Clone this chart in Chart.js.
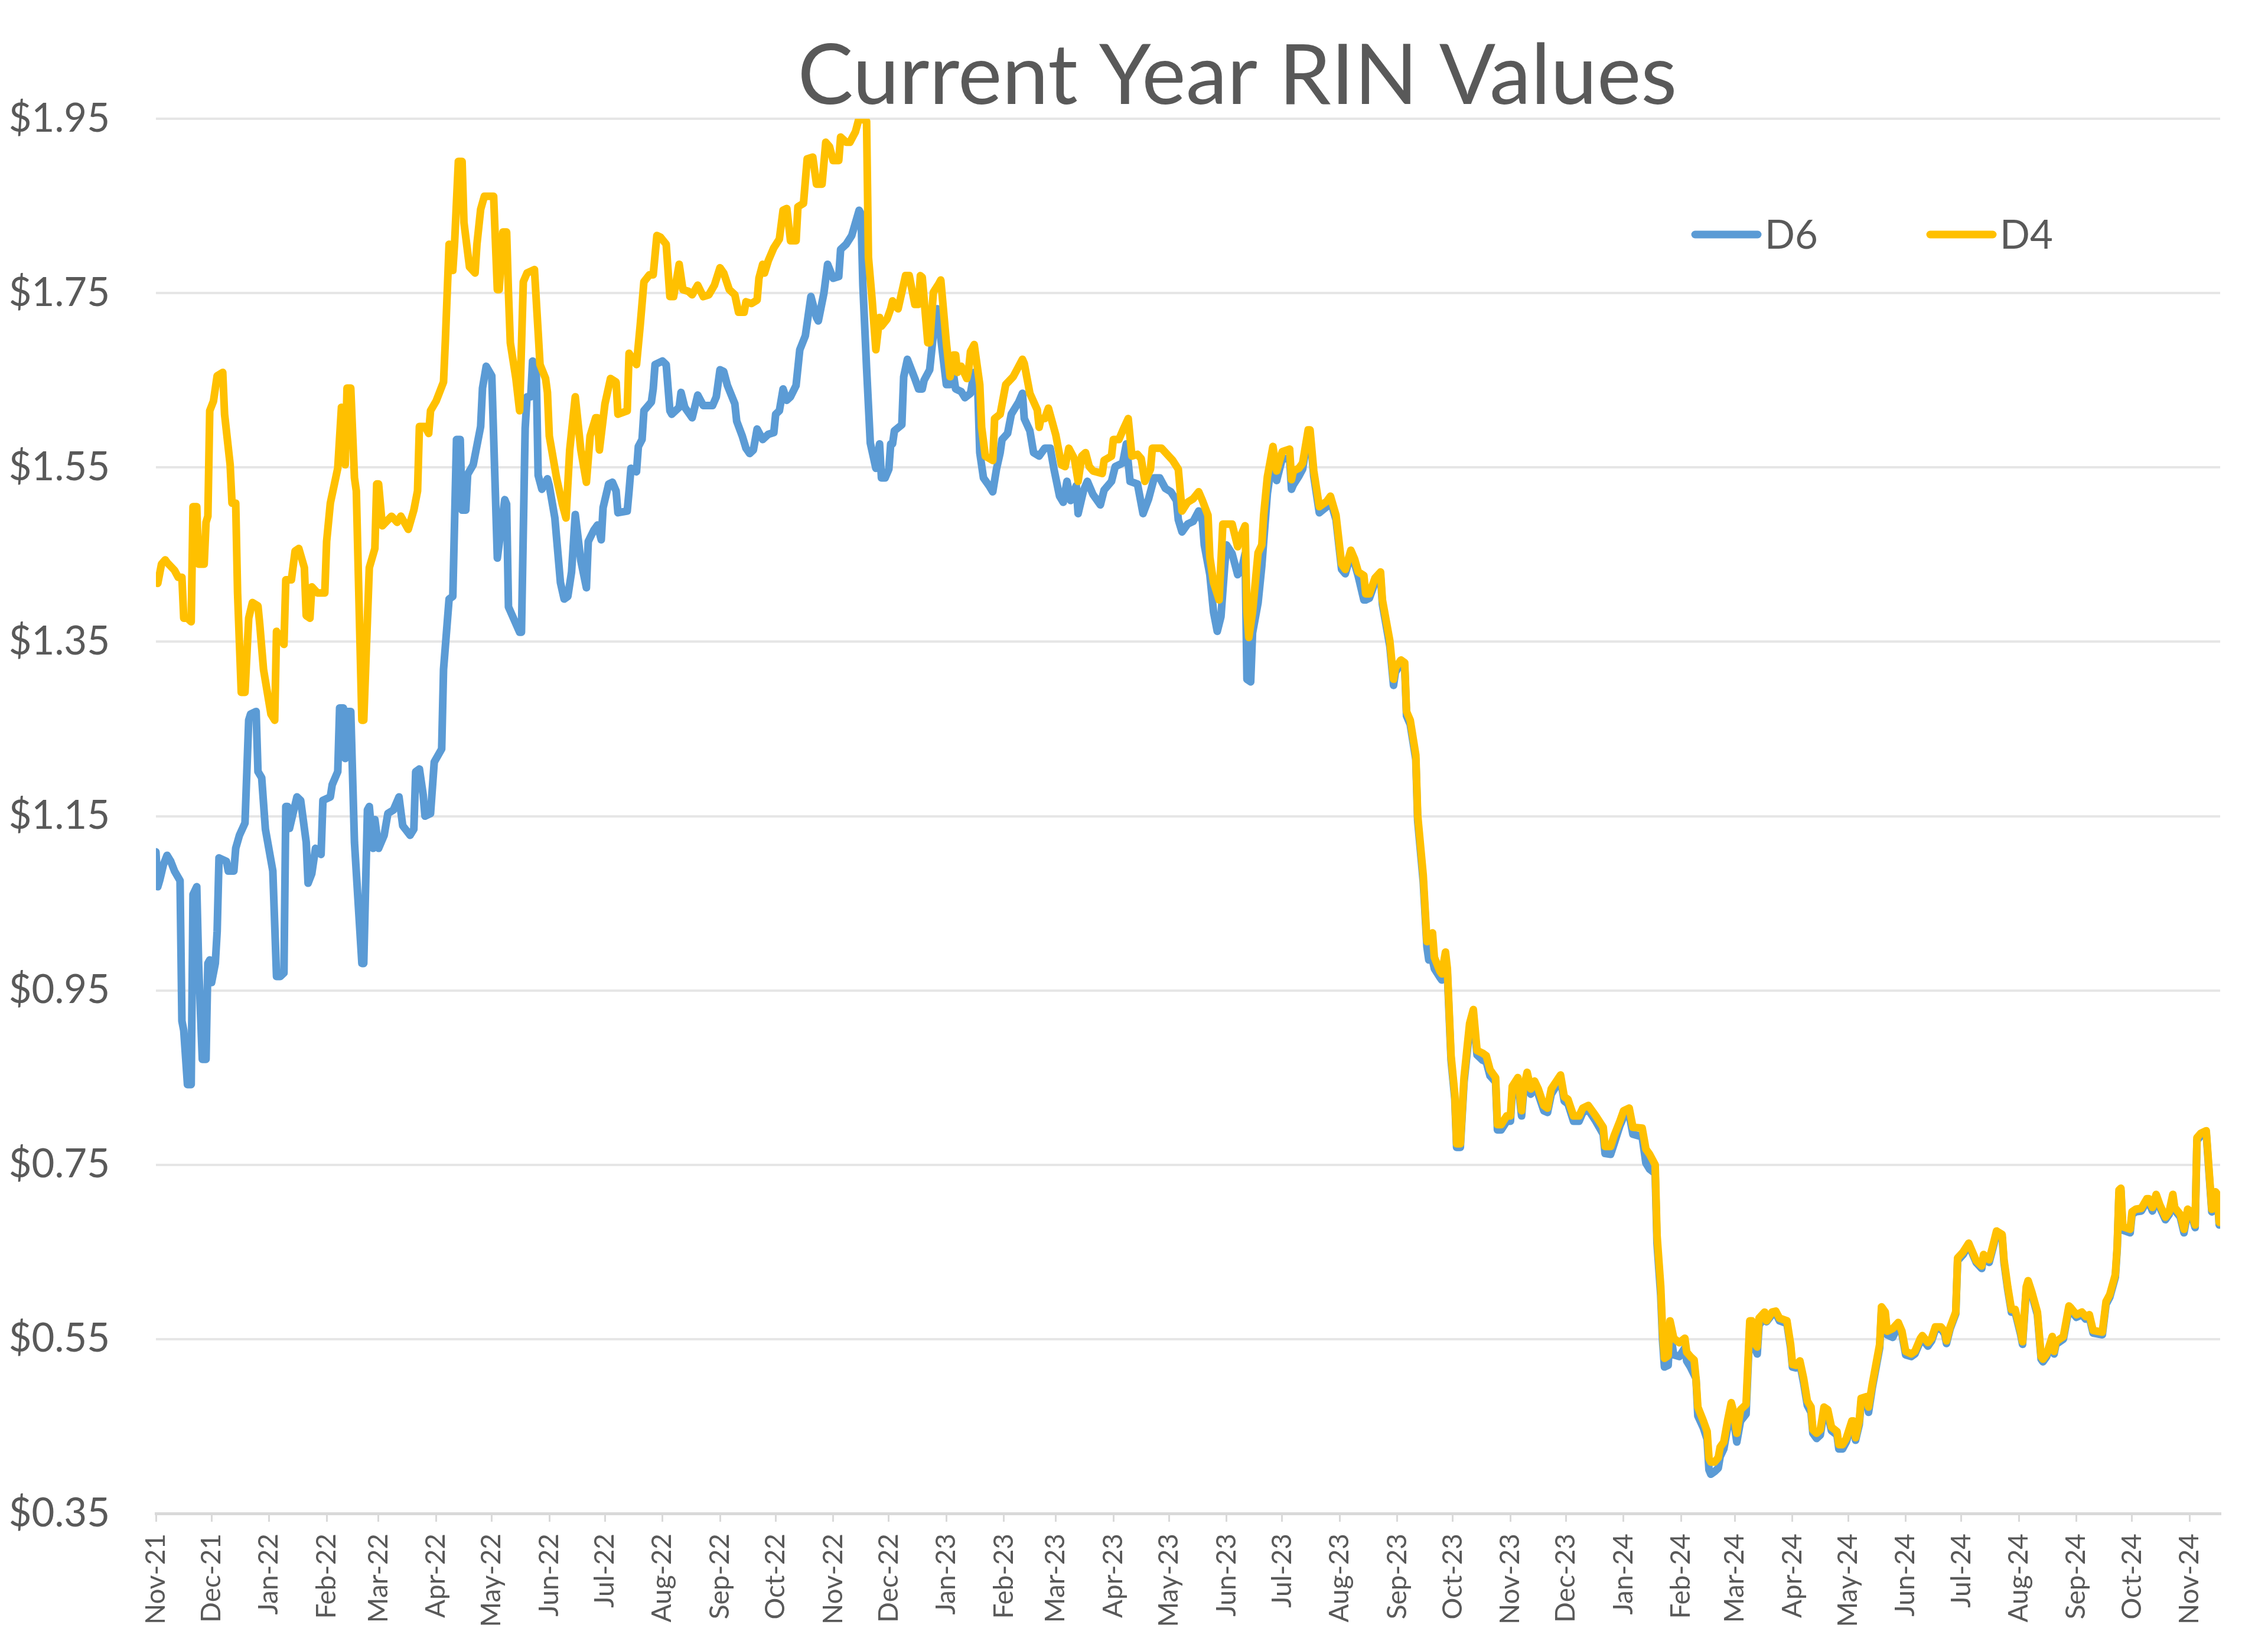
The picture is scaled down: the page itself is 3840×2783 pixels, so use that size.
<!DOCTYPE html>
<html lang="en">
<head>
  <meta charset="UTF-8" />
  <title>Current Year RIN Values</title>
  <style>
    html, body { margin: 0; padding: 0; background: #fff; }
    #wrap { width: 3840px; height: 2783px; }
  </style>
  <script src="https://cdn.jsdelivr.net/npm/chart.js"></script>
</head>
<body>
  <div id="wrap"><canvas id="rinChart" width="3840" height="2783"></canvas></div>

  <script>
    // x values are days counted from 1 Nov 2021
    const d6Day = [
      0,1,2,4,6,8,10,13,14,15, 17,19,20,22,23,25,27,28,29,30,
      32,33,34,38,39,42,43,45,48,49, 50,51,54,55,57,59,63,65,67,69,
      70,71,72,76,78,81,82,84,86,89, 90,94,95,98,99,101,102,103,105,107,
      111,112,114,115,117,118,120,123,125,128, 131,133,137,139,140,142,144,145,148,150,
      154,155,158,160,162,164,165,167,168,171, 175,176,178,181,183,184,188,189,190,196,
      197,199,200,202,203,205,206,208,211,212, 215,218,220,222,224,226,229,232,233,236,
      238,240,241,244,246,248,249,254,255,256, 259,260,262,263,267,268,269,273,275,277,
      278,282,283,285,289,292,295,300,302,304, 306,308,312,313,316,318,320,322,324,327,
      330,333,334,336,338,340,342,345,347,350, 353,356,357,360,362,365,368,369,372,375,
      379,380,381,383,385,388,390,391,393,395, 396,397,398,402,403,405,409,411,413,414,
      417,419,421,423,426,428,430,431,434,436, 439,441,443,444,446,449,451,453,455,456,
      459,461,465,467,468,471,473,476,479,482, 484,487,489,491,493,496,497,500,502,505,
      509,511,515,517,521,523,525,529,532,535, 538,541,544,547,550,551,553,556,559,562,
      564,565,568,570,572,574,576,577,580,583, 585,587,588,590,591,594,596,599,602,604,
      607,611,612,613,616,618,621,622,624,627, 631,633,636,639,641,644,646,648,651,652,
      654,657,660,661,665,667,668,671,673,674, 676,679,680,683,685,686,688,689,692,693,
      695,696,698,700,701,703,705,708,710,712, 715,717,719,722,723,725,728,730,731,734,
      736,737,739,741,743,745,748,750,752,757, 759,761,764,767,769,772,776,780,781,784,
      786,789,791,794,796,801,803,805,808,809, 811,812,813,815,816,818,821,824,825,827,
      830,831,834,836,837,838,840,842,843,845, 847,849,850,852,854,857,859,860,862,863,
      864,867,868,871,873,875,879,881,882,884, 886,888,890,892,893,895,897,899,901,903,
      906,907,909,911,914,915,916,918,919,922, 923,925,927,929,930,932,933,936,939,941,
      943,946,948,951,952,955,957,959,962,964, 965,967,970,971,974,977,979,981,984,985,
      988,990,992,995,996,998,1000,1002,1005,1006, 1008,1009,1011,1014,1016,1017,1019,1022,1023,1024,
      1028,1031,1032,1035,1038,1040,1042,1044,1049,1051, 1053,1056,1057,1058,1059,1060,1064,1065,1067,1070,
      1073,1074,1076,1078,1080,1083,1085,1087,1088,1091, 1093,1095,1097,1099,1100,1102,1105,1108,1110,1111,
      1112
    ];
    const d6Val = [
      1.109,1.069,1.076,1.094,1.105,1.098,1.087,1.076,0.915,0.904, 0.842,0.842,1.060,1.069,0.981,0.871,0.871,0.981,0.985,0.959,
      0.981,1.018,1.102,1.098,1.087,1.087,1.113,1.128,1.142,1.201, 1.260,1.267,1.270,1.201,1.194,1.135,1.087,0.966,0.966,0.970,
      1.161,1.161,1.136,1.172,1.168,1.120,1.073,1.084,1.113,1.106, 1.168,1.172,1.186,1.201,1.274,1.274,1.216,1.270,1.270,1.120,
      0.981,0.981,1.157,1.161,1.113,1.146,1.113,1.128,1.153,1.157, 1.172,1.139,1.128,1.135,1.201,1.204,1.175,1.150,1.153,1.212,
      1.227,1.318,1.399,1.402,1.582,1.582,1.501,1.501,1.542,1.553, 1.597,1.641,1.666,1.655,1.516,1.446,1.513,1.508,1.390,1.361,
      1.361,1.595,1.631,1.631,1.672,1.656,1.541,1.525,1.537,1.529, 1.492,1.418,1.399,1.402,1.430,1.496,1.443,1.412,1.465,1.478,
      1.484,1.467,1.504,1.531,1.533,1.523,1.498,1.500,1.523,1.549, 1.545,1.574,1.582,1.615,1.625,1.640,1.668,1.672,1.668,1.615,
      1.611,1.619,1.636,1.619,1.607,1.633,1.621,1.621,1.631,1.662, 1.660,1.644,1.623,1.603,1.586,1.572,1.566,1.570,1.594,1.582,
      1.588,1.590,1.611,1.615,1.640,1.627,1.631,1.644,1.685,1.701, 1.746,1.722,1.718,1.750,1.783,1.767,1.769,1.800,1.806,1.816,
      1.845,1.841,1.759,1.664,1.578,1.549,1.577,1.538,1.538,1.548, 1.577,1.577,1.592,1.599,1.654,1.674,1.652,1.640,1.640,1.650,
      1.662,1.703,1.732,1.698,1.645,1.645,1.654,1.640,1.637,1.630, 1.635,1.659,1.635,1.567,1.538,1.529,1.522,1.548,1.567,1.582,
      1.589,1.611,1.625,1.635,1.606,1.592,1.567,1.563,1.572,1.572, 1.548,1.517,1.510,1.534,1.512,1.529,1.497,1.524,1.534,1.519,
      1.507,1.524,1.534,1.551,1.555,1.577,1.534,1.531,1.497,1.514, 1.538,1.538,1.526,1.522,1.512,1.490,1.476,1.485,1.488,1.500,
      1.488,1.461,1.427,1.384,1.362,1.379,1.437,1.461,1.451,1.427, 1.432,1.451,1.307,1.304,1.360,1.395,1.437,1.520,1.565,1.535,
      1.560,1.560,1.525,1.530,1.540,1.548,1.590,1.588,1.540,1.498, 1.505,1.512,1.490,1.433,1.428,1.450,1.440,1.425,1.398,1.398,
      1.400,1.418,1.425,1.393,1.345,1.300,1.315,1.325,1.322,1.265, 1.255,1.215,1.145,1.075,1.000,0.985,0.985,0.975,0.965,0.962,
      0.988,0.970,0.870,0.826,0.770,0.770,0.845,0.905,0.922,0.876, 0.870,0.868,0.852,0.845,0.790,0.790,0.800,0.800,0.834,0.845,
      0.806,0.831,0.850,0.831,0.840,0.831,0.812,0.810,0.831,0.848, 0.823,0.820,0.800,0.800,0.810,0.813,0.800,0.785,0.763,0.762,
      0.775,0.795,0.805,0.808,0.785,0.782,0.752,0.745,0.740,0.660, 0.600,0.548,0.518,0.520,0.560,0.532,0.530,0.540,0.525,0.518,
      0.505,0.462,0.448,0.435,0.400,0.395,0.398,0.402,0.415,0.424, 0.448,0.470,0.462,0.432,0.456,0.464,0.565,0.566,0.538,0.533,
      0.566,0.575,0.570,0.578,0.580,0.571,0.568,0.540,0.518,0.517, 0.522,0.500,0.474,0.466,0.442,0.436,0.440,0.467,0.464,0.445,
      0.440,0.424,0.424,0.432,0.452,0.452,0.434,0.452,0.478,0.480, 0.466,0.494,0.517,0.540,0.584,0.578,0.555,0.552,0.565,0.556,
      0.532,0.530,0.533,0.548,0.550,0.542,0.548,0.561,0.562,0.556, 0.545,0.562,0.579,0.640,0.647,0.658,0.648,0.638,0.631,0.644,
      0.638,0.654,0.671,0.667,0.638,0.607,0.581,0.581,0.555,0.544, 0.607,0.614,0.601,0.578,0.527,0.524,0.530,0.550,0.533,0.544,
      0.550,0.585,0.583,0.575,0.578,0.573,0.575,0.557,0.555,0.590, 0.598,0.621,0.653,0.718,0.720,0.675,0.672,0.693,0.696,0.697,
      0.708,0.708,0.697,0.713,0.701,0.687,0.693,0.713,0.698,0.690, 0.672,0.696,0.693,0.678,0.778,0.783,0.786,0.696,0.716,0.713,
      0.681
    ];

    const d4Day = [
      0,1,3,5,6,10,12,14,15,17, 19,20,22,23,26,27,28,29,31,33,
      36,37,40,41,43,44,46,48,50,52, 55,56,58,62,64,65,69,70,73,75,
      77,80,81,83,84,87,91,92,94,98, 100,101,102,103,105,107,108,111,112,115,
      118,119,120,122,127,130,132,136,139,141, 142,145,147,148,151,155,156,158,160,161,
      163,165,166,169,172,173,175,177,182,184, 185,187,189,190,191,194,196,198,200,204,
      206,207,210,211,212,216,219,221,223,226, 229,232,234,237,238,239,242,245,248,249,
      254,255,259,261,263,266,268,270,272,275, 277,279,282,284,287,289,292,295,298,301,
      304,306,309,312,314,317,318,321,324,325, 327,328,330,333,336,338,340,342,345,346,
      349,351,354,356,359,361,363,365,368,369, 372,374,377,379,383,384,386,388,390,391,
      394,396,397,398,400,402,404,406,409,411, 412,413,416,417,419,422,423,426,428,430,
      431,432,434,437,438,439,441,444,445,447, 451,452,455,458,462,464,467,468,471,475,
      476,477,479,481,485,488,490,492,495,497, 499,501,503,505,510,511,515,516,519,521,
      524,526,529,531,533,536,537,542,545,548, 551,553,556,559,562,564,567,568,570,573,
      574,575,580,583,585,587,588,589,591,594, 596,597,599,602,604,607,611,612,613,616,
      618,621,622,624,627,631,633,636,639,641, 644,646,648,651,652,654,657,660,661,665,
      667,668,671,673,674,676,679,680,683,685, 686,688,689,692,693,695,696,698,700,701,
      703,705,708,710,712,715,717,719,722,723, 725,728,730,731,734,736,737,739,741,743,
      745,748,750,752,757,759,761,764,767,769, 772,776,780,781,784,786,789,791,794,796,
      801,803,805,808,809,811,812,813,815,816, 818,821,824,825,827,829,830,831,834,836,
      837,838,840,842,843,845,847,849,850,852, 854,857,859,860,862,863,864,867,868,871,
      873,875,879,881,882,884,886,888,890,892, 893,895,897,899,901,903,906,907,909,911,
      914,915,916,918,919,922,923,925,927,929, 930,932,933,936,939,941,943,946,948,951,
      952,955,957,959,962,964,965,967,970,971, 974,977,979,981,984,985,988,990,992,995,
      996,998,1000,1002,1005,1006,1008,1009,1011,1014, 1016,1017,1019,1022,1023,1024,1028,1031,1032,1035,
      1038,1040,1042,1044,1049,1051,1053,1056,1057,1058, 1059,1060,1064,1065,1067,1070,1073,1074,1076,1078,
      1080,1083,1085,1087,1088,1091,1093,1095,1097,1099, 1100,1102,1105,1108,1110,1111,1112
    ];
    const d4Val = [
      1.421,1.417,1.439,1.444,1.441,1.432,1.424,1.424,1.377,1.377, 1.373,1.505,1.505,1.439,1.439,1.487,1.494,1.615,1.626,1.655,
      1.659,1.611,1.553,1.509,1.509,1.406,1.292,1.292,1.377,1.395, 1.391,1.369,1.318,1.267,1.260,1.362,1.347,1.421,1.421,1.454,
      1.457,1.435,1.380,1.377,1.413,1.406,1.406,1.465,1.509,1.549, 1.619,1.611,1.553,1.641,1.641,1.538,1.523,1.260,1.260,1.435,
      1.457,1.531,1.531,1.483,1.494,1.487,1.494,1.479,1.501,1.523, 1.597,1.597,1.589,1.615,1.626,1.648,1.696,1.806,1.776,1.809,
      1.901,1.901,1.831,1.780,1.773,1.806,1.846,1.861,1.861,1.754, 1.754,1.820,1.820,1.750,1.693,1.652,1.615,1.763,1.773,1.777,
      1.705,1.668,1.652,1.636,1.586,1.537,1.508,1.492,1.570,1.631, 1.570,1.533,1.586,1.607,1.607,1.570,1.623,1.652,1.648,1.611,
      1.615,1.681,1.668,1.713,1.763,1.771,1.771,1.816,1.814,1.806, 1.746,1.746,1.783,1.754,1.752,1.748,1.759,1.746,1.748,1.759,
      1.779,1.773,1.754,1.748,1.728,1.728,1.740,1.738,1.742,1.767, 1.783,1.773,1.787,1.802,1.812,1.845,1.847,1.810,1.810,1.849,
      1.853,1.904,1.906,1.875,1.875,1.923,1.918,1.902,1.902,1.929, 1.923,1.923,1.935,1.951,1.947,1.791,1.742,1.685,1.722,1.712,
      1.720,1.732,1.741,1.737,1.732,1.751,1.770,1.770,1.737,1.737, 1.770,1.768,1.693,1.693,1.751,1.761,1.765,1.693,1.654,1.679,
      1.679,1.659,1.666,1.652,1.662,1.683,1.691,1.645,1.596,1.563, 1.558,1.606,1.611,1.645,1.654,1.662,1.674,1.669,1.635,1.616,
      1.596,1.606,1.606,1.618,1.587,1.553,1.551,1.572,1.560,1.534, 1.563,1.567,1.551,1.546,1.543,1.558,1.563,1.582,1.582,1.592,
      1.606,1.563,1.565,1.560,1.534,1.548,1.572,1.572,1.565,1.558, 1.548,1.500,1.510,1.514,1.522,1.512,1.495,1.447,1.418,1.398,
      1.442,1.485,1.485,1.459,1.473,1.483,1.384,1.355,1.384,1.452, 1.461,1.495,1.539,1.574,1.546,1.568,1.571,1.536,1.546,1.549,
      1.555,1.593,1.593,1.546,1.505,1.511,1.517,1.495,1.439,1.433, 1.455,1.445,1.430,1.426,1.405,1.405,1.423,1.430,1.398,1.351,
      1.307,1.320,1.329,1.326,1.270,1.260,1.220,1.151,1.082,1.006, 1.013,1.016,0.988,0.972,0.969,0.994,0.975,0.875,0.831,0.774,
      0.774,0.850,0.912,0.928,0.881,0.878,0.875,0.859,0.850,0.796, 0.796,0.806,0.806,0.840,0.850,0.812,0.837,0.856,0.837,0.846,
      0.837,0.818,0.815,0.837,0.853,0.828,0.825,0.806,0.806,0.815, 0.818,0.806,0.793,0.771,0.771,0.784,0.800,0.812,0.815,0.793,
      0.792,0.768,0.762,0.750,0.669,0.610,0.558,0.528,0.531,0.571, 0.551,0.546,0.551,0.535,0.530,0.526,0.505,0.472,0.456,0.444,
      0.413,0.409,0.409,0.414,0.426,0.432,0.456,0.477,0.469,0.442, 0.469,0.475,0.571,0.571,0.544,0.541,0.574,0.581,0.571,0.581,
      0.582,0.574,0.571,0.544,0.521,0.520,0.525,0.505,0.479,0.472, 0.446,0.442,0.446,0.472,0.469,0.449,0.444,0.429,0.429,0.436,
      0.456,0.456,0.437,0.456,0.482,0.484,0.472,0.498,0.521,0.544, 0.587,0.581,0.559,0.562,0.569,0.559,0.536,0.533,0.536,0.551,
      0.554,0.546,0.551,0.564,0.564,0.559,0.548,0.564,0.581,0.643, 0.650,0.660,0.650,0.640,0.634,0.647,0.641,0.657,0.674,0.670,
      0.641,0.610,0.584,0.584,0.558,0.547,0.610,0.617,0.604,0.581, 0.530,0.527,0.533,0.553,0.536,0.547,0.553,0.588,0.586,0.578,
      0.581,0.576,0.578,0.560,0.558,0.593,0.601,0.624,0.656,0.721, 0.723,0.679,0.676,0.696,0.699,0.700,0.711,0.711,0.701,0.716,
      0.704,0.690,0.696,0.716,0.701,0.693,0.676,0.699,0.696,0.681, 0.781,0.786,0.789,0.699,0.719,0.716,0.684
    ];

    const monthLabels = [
      'Nov-21','Dec-21','Jan-22','Feb-22','Mar-22','Apr-22','May-22','Jun-22','Jul-22','Aug-22','Sep-22','Oct-22',
      'Nov-22','Dec-22','Jan-23','Feb-23','Mar-23','Apr-23','May-23','Jun-23','Jul-23','Aug-23','Sep-23','Oct-23',
      'Nov-23','Dec-23','Jan-24','Feb-24','Mar-24','Apr-24','May-24','Jun-24','Jul-24','Aug-24','Sep-24','Oct-24',
      'Nov-24'
    ];
    const yTicks = [0.35, 0.55, 0.75, 0.95, 1.15, 1.35, 1.55, 1.75, 1.95];

    const TEXT = '#595959';
    const FONT = 'Lato, "Open Sans", sans-serif';
    const BLUE = '#5B9BD5';
    const GOLD = '#FFC000';

    // month starts as day offsets, for the tick positions
    const START = Date.UTC(2021, 10, 1);
    const monthDays = monthLabels.map((_, i) => (Date.UTC(2021, 10 + i, 1) - START) / 86400000);

    const toPoints = (xs, ys) => xs.map((x, i) => ({ x: x, y: ys[i] }));

    // title + legend drawn at the spots they sit in the original
    const titleAndLegend = {
      id: 'titleAndLegend',
      afterDraw(chart) {
        const ctx = chart.ctx;
        ctx.save();
        ctx.fillStyle = TEXT;
        ctx.font = '141px ' + FONT;
        ctx.textAlign = 'center';
        ctx.textBaseline = 'alphabetic';
        ctx.fillText('Current Year RIN Values', 2095, 176);

        const items = [{ i: 0, x: 2870 }, { i: 1, x: 3268 }];
        ctx.font = '67px ' + FONT;
        ctx.textAlign = 'left';
        ctx.textBaseline = 'middle';
        items.forEach(it => {
          const ds = chart.data.datasets[it.i];
          ctx.strokeStyle = ds.borderColor;
          ctx.lineWidth = 13;
          ctx.lineCap = 'round';
          ctx.beginPath();
          ctx.moveTo(it.x, 397);
          ctx.lineTo(it.x + 106, 397);
          ctx.stroke();
          ctx.fillStyle = TEXT;
          ctx.fillText(ds.label, it.x + 118, 399);
        });
        ctx.restore();
      }
    };

    const ctx = document.getElementById('rinChart').getContext('2d');
    const rinChart = new Chart(ctx, {
      type: 'line',
      data: {
        datasets: [
          {
            label: 'D6',
            data: toPoints(d6Day, d6Val),
            borderColor: BLUE,
            backgroundColor: BLUE,
            borderWidth: 13,
            pointRadius: 0,
            tension: 0,
            borderJoinStyle: 'round',
            borderCapStyle: 'round',
            order: 1
          },
          {
            label: 'D4',
            data: toPoints(d4Day, d4Val),
            borderColor: GOLD,
            backgroundColor: GOLD,
            borderWidth: 13,
            pointRadius: 0,
            tension: 0,
            borderJoinStyle: 'round',
            borderCapStyle: 'round',
            order: 0
          }
        ]
      },
      options: {
        responsive: false,
        animation: false,
        devicePixelRatio: 1,
        layout: { padding: { top: 201, right: 81, bottom: 0, left: 0 } },
        plugins: {
          legend: { display: false },
          title: { display: false },
          tooltip: { enabled: false }
        },
        scales: {
          x: {
            type: 'linear',
            min: 0,
            max: 1112.5,
            afterBuildTicks: s => { s.ticks = monthDays.map(v => ({ value: v })); },
            afterFit: s => { s.height = 221; },
            grid: { drawOnChartArea: false, drawTicks: true, tickLength: 14, color: '#d9d9d9', lineWidth: 3 },
            border: { display: true, color: '#d9d9d9', width: 5 },
            ticks: {
              autoSkip: false,
              minRotation: 90,
              maxRotation: 90,
              padding: 20,
              color: TEXT,
              font: { family: FONT, size: 46 },
              callback: (v, i) => monthLabels[i]
            }
          },
          y: {
            min: 0.35,
            max: 1.95,
            afterBuildTicks: s => { s.ticks = yTicks.map(v => ({ value: v })); },
            afterFit: s => { s.width = 264; },
            grid: { color: '#e6e6e6', lineWidth: 4, drawTicks: false },
            border: { display: false },
            ticks: {
              padding: 78,
              color: TEXT,
              font: { family: FONT, size: 67 },
              callback: v => '$' + v.toFixed(2)
            }
          }
        }
      },
      plugins: [titleAndLegend]
    });
  </script>
</body>
</html>
